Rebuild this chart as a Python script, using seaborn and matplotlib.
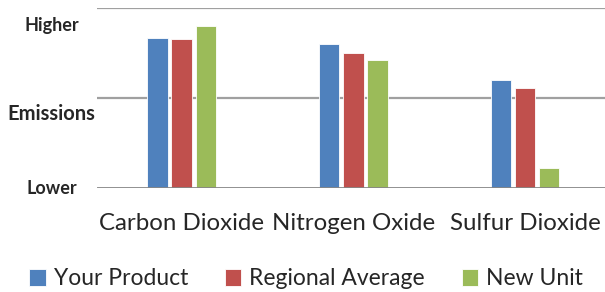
import numpy as np
import pandas as pd
import matplotlib
matplotlib.use("Agg")
import matplotlib.pyplot as plt
import seaborn as sns

## data (relative scale: 0 = Lower, 2 = top gridline)
categories = ["Carbon Dioxide", "Nitrogen Oxide", "Sulfur Dioxide"]
series = ["Your Product", "Regional Average", "New Unit"]
your_product = [1.66, 1.60, 1.20]
regional_average = [1.65, 1.50, 1.10]
new_unit = [1.79, 1.42, 0.22]
colors = ["#4F81BD", "#C0504D", "#9BBB59"]

df = pd.DataFrame({
    "category": categories * 3,
    "series": np.repeat(series, 3),
    "value": your_product + regional_average + new_unit,
})

sns.set_style("white")
plt.rcParams["font.family"] = ["Lato", "DejaVu Sans"]

fig = plt.figure(figsize=(6.05, 2.92), dpi=100)
ax = fig.add_axes([97/605, 1 - 187.5/292, 508/605, 180/292])

## gridlines first, bars drawn over them
for lvl in [1, 2]:
    ax.axhline(lvl, color="#a0a0a0", lw=1.6, zorder=0)
ax.axhline(0, color="#868686", lw=2.0, zorder=3)

sns.barplot(data=df, x="category", y="value", hue="series",
            hue_order=series, palette=colors, width=0.423, gap=0.15,
            edgecolor="white", linewidth=0.6, saturation=1, ax=ax)

ax.set_xlim(-0.493, 2.466)
ax.set_ylim(0, 2)
for s in ax.spines.values():
    s.set_visible(False)

## y labels
ax.set_yticks([0, 1.817])
ax.set_yticklabels(["Lower", "Higher"], fontsize=13, fontweight="bold")
ax.tick_params(axis="y", length=0, pad=32.8)
for t in ax.get_yticklabels():
    t.set_horizontalalignment("center")
ax.set_ylabel("Emissions", rotation=0, fontsize=14.5, fontweight="bold",
              ha="center", va="center")
ax.yaxis.set_label_coords(-0.0896, 0.41)

ax.set_xlabel("")
ax.tick_params(axis="x", length=0, pad=18, labelsize=17.3)

handles, labels = ax.get_legend_handles_labels()
ax.get_legend().remove()
fig.legend(handles, labels, loc="center", bbox_to_anchor=(0.506, 0.045),
           ncol=3, frameon=False, fontsize=16.5, handlelength=0.72,
           handleheight=0.72, handletextpad=0.35, columnspacing=1.6)

fig.savefig("out.png", dpi=100)
